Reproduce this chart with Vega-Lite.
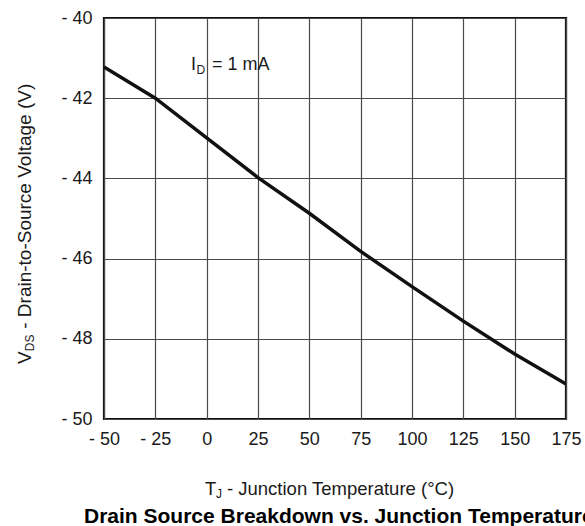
{
  "$schema": "https://vega.github.io/schema/vega-lite/v6.json",
  "width": 462,
  "height": 401,
  "autosize": {"type": "none"},
  "padding": {"left": 104, "top": 18, "right": 19, "bottom": 107},
  "background": "white",
  "config": {
    "view": {"stroke": "#111111", "strokeWidth": 2.2},
    "font": "Liberation Sans",
    "text": {"font": "Liberation Sans", "color": "#1a1a1a"}
  },
  "layer": [
    {
      "data": {
        "values": [
          {"temp": -50, "vds": -41.22},
          {"temp": -25, "vds": -42.0},
          {"temp": 0, "vds": -42.99},
          {"temp": 25, "vds": -43.98},
          {"temp": 50, "vds": -44.87},
          {"temp": 75, "vds": -45.82},
          {"temp": 100, "vds": -46.7},
          {"temp": 125, "vds": -47.56},
          {"temp": 150, "vds": -48.38},
          {"temp": 175, "vds": -49.13}
        ]
      },
      "mark": {"type": "line", "color": "#111111", "strokeWidth": 3.5, "clip": true},
      "encoding": {
        "x": {
          "field": "temp",
          "type": "quantitative",
          "scale": {"domain": [-50, 175], "nice": false, "zero": false},
          "axis": {
            "title": null,
            "values": [-50, -25, 0, 25, 50, 75, 100, 125, 150, 175],
            "labelExpr": "datum.value < 0 ? '- ' + abs(datum.value) : '' + datum.value",
            "grid": true,
            "gridColor": "#4a4a4a",
            "gridWidth": 1.2,
            "ticks": false,
            "domain": false,
            "labelFont": "Liberation Sans",
            "labelFontSize": 18,
            "labelColor": "#1a1a1a",
            "labelPadding": 11,
            "labelFlush": false,
            "labelOverlap": false
          }
        },
        "y": {
          "field": "vds",
          "type": "quantitative",
          "scale": {"domain": [-50, -40], "nice": false, "zero": false},
          "axis": {
            "title": null,
            "values": [-50, -48, -46, -44, -42, -40],
            "labelExpr": "datum.value < 0 ? '- ' + abs(datum.value) : '' + datum.value",
            "grid": true,
            "gridColor": "#4a4a4a",
            "gridWidth": 1.2,
            "ticks": false,
            "domain": false,
            "labelFont": "Liberation Sans",
            "labelFontSize": 18,
            "labelColor": "#1a1a1a",
            "labelPadding": 12,
            "labelFlush": false,
            "labelOverlap": false
          }
        }
      }
    },
    {
      "data": {"values": [{"t": "I"}]},
      "mark": {"type": "text", "align": "left", "baseline": "alphabetic", "fontSize": 18},
      "encoding": {"x": {"datum": -7.6, "type": "quantitative"}, "y": {"datum": -41.297, "type": "quantitative"}, "text": {"field": "t"}}
    },
    {
      "data": {"values": [{"t": "D"}]},
      "mark": {"type": "text", "align": "left", "baseline": "alphabetic", "fontSize": 12},
      "encoding": {"x": {"datum": -4.9, "type": "quantitative"}, "y": {"datum": -41.397, "type": "quantitative"}, "text": {"field": "t"}}
    },
    {
      "data": {"values": [{"t": "= 1 mA"}]},
      "mark": {"type": "text", "align": "left", "baseline": "alphabetic", "fontSize": 18},
      "encoding": {"x": {"datum": 2.6, "type": "quantitative"}, "y": {"datum": -41.297, "type": "quantitative"}, "text": {"field": "t"}}
    },
    {
      "data": {"values": [{"t": "V"}]},
      "mark": {"type": "text", "align": "left", "baseline": "alphabetic", "angle": 270, "fontSize": 19},
      "encoding": {"x": {"datum": -85.55, "type": "quantitative"}, "y": {"datum": -48.628, "type": "quantitative"}, "text": {"field": "t"}}
    },
    {
      "data": {"values": [{"t": "DS"}]},
      "mark": {"type": "text", "align": "left", "baseline": "alphabetic", "angle": 270, "fontSize": 12},
      "encoding": {"x": {"datum": -84.09, "type": "quantitative"}, "y": {"datum": -48.31, "type": "quantitative"}, "text": {"field": "t"}}
    },
    {
      "data": {"values": [{"t": "- Drain-to-Source Voltage (V)"}]},
      "mark": {"type": "text", "align": "left", "baseline": "alphabetic", "angle": 270, "fontSize": 19},
      "encoding": {"x": {"datum": -85.55, "type": "quantitative"}, "y": {"datum": -47.75, "type": "quantitative"}, "text": {"field": "t"}}
    },
    {
      "data": {"values": [{"t": "T"}]},
      "mark": {"type": "text", "align": "left", "baseline": "alphabetic", "fontSize": 18.5},
      "encoding": {"x": {"datum": -0.81, "type": "quantitative"}, "y": {"datum": -51.895, "type": "quantitative"}, "text": {"field": "t"}}
    },
    {
      "data": {"values": [{"t": "J"}]},
      "mark": {"type": "text", "align": "left", "baseline": "alphabetic", "fontSize": 12},
      "encoding": {"x": {"datum": 4.55, "type": "quantitative"}, "y": {"datum": -51.97, "type": "quantitative"}, "text": {"field": "t"}}
    },
    {
      "data": {"values": [{"t": "- Junction Temperature (°C)"}]},
      "mark": {"type": "text", "align": "left", "baseline": "alphabetic", "fontSize": 18.5},
      "encoding": {"x": {"datum": 9.9, "type": "quantitative"}, "y": {"datum": -51.895, "type": "quantitative"}, "text": {"field": "t"}}
    },
    {
      "data": {"values": [{"t": "Drain Source Breakdown vs. Junction Temperature"}]},
      "mark": {"type": "text", "align": "left", "baseline": "alphabetic", "fontSize": 21, "fontWeight": "bold", "color": "#000000"},
      "encoding": {"x": {"datum": -59.74, "type": "quantitative"}, "y": {"datum": -52.593, "type": "quantitative"}, "text": {"field": "t"}}
    }
  ]
}
